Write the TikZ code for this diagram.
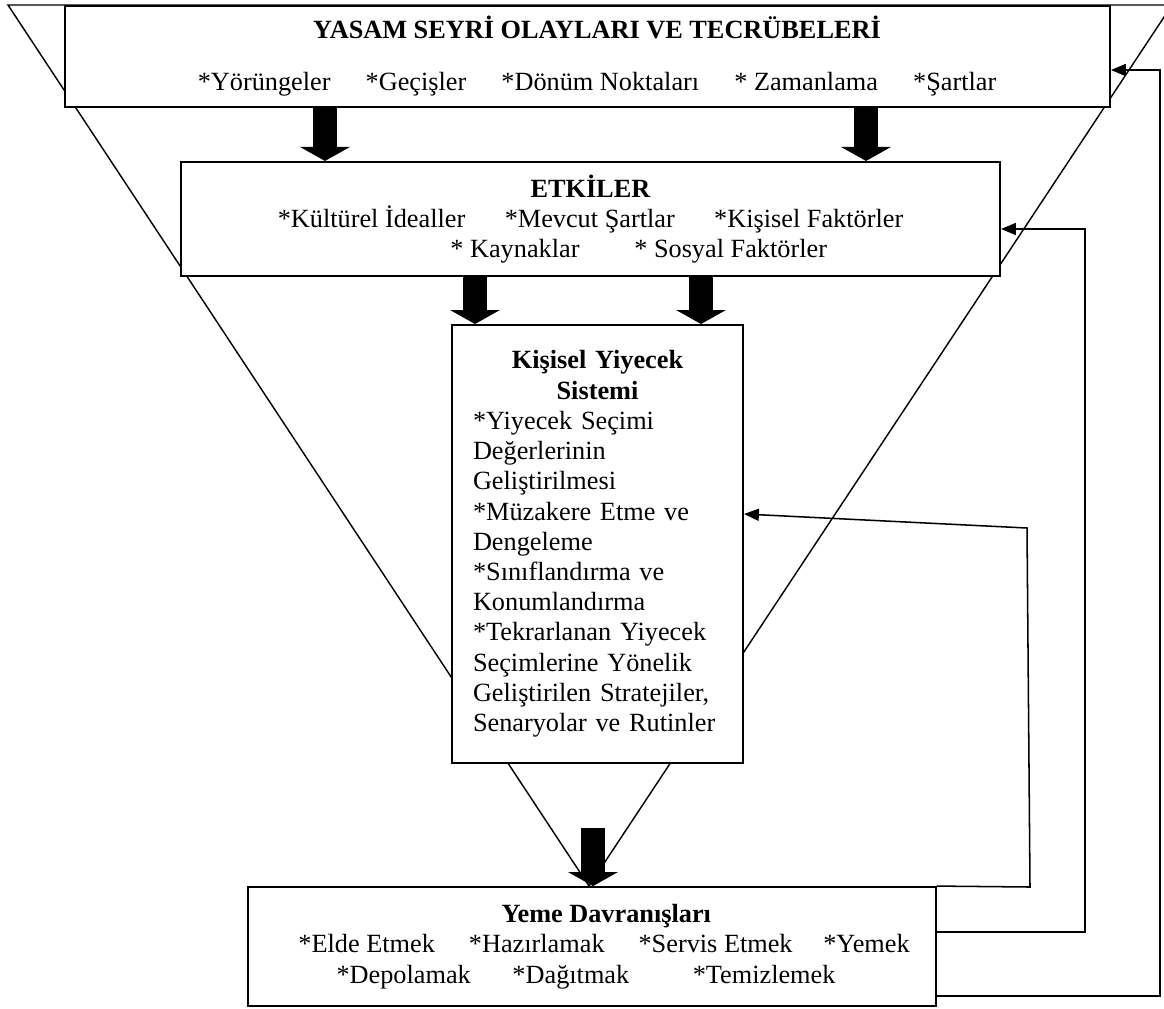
\documentclass[tikz,border=0pt]{standalone}
\usepackage{fontspec}
\setmainfont{Liberation Serif}
\usetikzlibrary{arrows.meta}
\tikzset{box/.style = {draw, fill=white, line width=0.9pt, inner sep=0pt},
  fat/.style = {line width=11pt, -{Triangle[width=22.8pt, length=6.4pt, line width=0pt]}},
  back/.style = {line width=0.7pt, -{Triangle[width=5.5pt, length=6.8pt]}}}

\begin{document}
\begin{tikzpicture}[x=0.4566pt, y=-0.4566pt, font=\fontsize{12pt}{13.8pt}\selectfont]
    \useasboundingbox (0, 0) rectangle (1164, 1008);

    \draw [line width=0.65pt] (8, 5) -- (1172, 5) -- (589, 886) -- cycle;

    \node [box, align=center, minimum width=477.1pt, minimum height=46.1pt] (yasam) at (587.5, 56.5)
      {\hspace*{8.7pt}\textbf{YASAM SEYRİ OLAYLARI VE TECRÜBELERİ}\\[10pt]
       \hspace*{8.7pt}{*}Yörüngeler\hspace{16pt}*Geçişler\hspace{16pt}*Dönüm Noktaları\hspace{16pt}* Zamanlama\hspace{16pt}*Şartlar};
    \node [box, align=center, minimum width=374pt, minimum height=52.1pt] (etk) at (590.5, 219)
      {\textbf{ETKİLER}\\
       {*}Kültürel İdealler\hspace{18pt}*Mevcut Şartlar\hspace{18pt}*Kişisel Faktörler\\
       \hspace*{44pt}{*} Kaynaklar\hspace{25pt}* Sosyal Faktörler};
    \node [box, align=left, text width=113.7pt, inner xsep=9.6pt, minimum height=200pt] (kys) at (597.5, 544)
      {{\centering\bfseries Kişisel Yiyecek\\ Sistemi\par}
       \raggedright\noindent{*}Yiyecek Seçimi\\ Değerlerinin\\ Geliştirilmesi\\
       {*}Müzakere Etme ve\\ Dengeleme\\
       {*}Sınıflandırma ve\\ Konumlandırma\\
       {*}Tekrarlanan Yiyecek\\ Seçimlerine Yönelik\\ Geliştirilen Stratejiler,\\ Senaryolar ve Rutinler};
    \node [box, align=center, minimum width=314.1pt, minimum height=54.3pt] (yeme) at (592, 946.5)
      {\hspace*{13pt}\textbf{Yeme Davranışları}\\
       \hspace*{11pt}{*}Elde Etmek\hspace{15.5pt}*Hazırlamak\hspace{15.5pt}*Servis Etmek\hspace{14pt}*Yemek\\
       {*}Depolamak\hspace{19pt}*Dağıtmak\hspace{29pt}*Temizlemek\hspace*{5.5pt}};

    \coordinate (gap) at (593, 828);

    \draw [fat] (yasam.south -| 325, 0) -- (etk.north -| 325, 0);
    \draw [fat] (yasam.south -| 866, 0) -- (etk.north -| 866, 0);
    \draw [fat] (etk.south -| 475, 0) -- (kys.north -| 475, 0);
    \draw [fat] (etk.south -| 701, 0) -- (kys.north -| 701, 0);
    \draw [fat] (gap) -- (yeme.north -| gap);

    \draw [back] (yeme.east |- 0, 996) -- (1160, 996) -- (1160, 70) -- (yasam.east |- 0, 70);
    \draw [back] (yeme.east |- 0, 932) -- (1085, 932) -- (1085, 229) -- (etk.east |- 0, 229);
    \draw [back] (yeme.north east) -- (1030, 887) -- (1027, 528) -- (kys.east |- 0, 514);
\end{tikzpicture}
\end{document}
